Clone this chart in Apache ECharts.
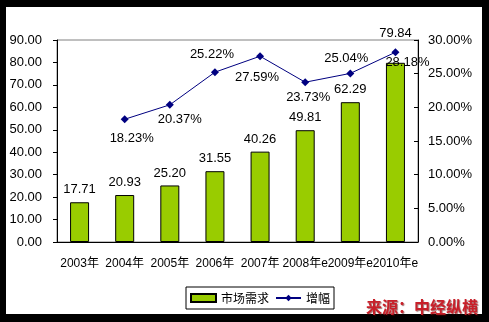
<!DOCTYPE html>
<html>
<head>
<meta charset="utf-8">
<script src="https://cdn.jsdelivr.net/npm/echarts@6/dist/echarts.min.js"></script>
<style>
  html, body { margin: 0; padding: 0; background: #000; }
  #chart { width: 489px; height: 322px; }
</style>
</head>
<body>
<div id="chart"></div>
<script>
// Market demand (bars, left axis) and growth rate (line, right axis)
const categories = ['2003年', '2004年', '2005年', '2006年', '2007年', '2008年e', '2009年e', '2010年e'];
const demand = [17.71, 20.93, 25.20, 31.55, 40.26, 49.81, 62.29, 79.84];
const growth = [null, 18.23, 20.37, 25.22, 27.59, 23.73, 25.04, 28.18];
// hand-placed label offsets for the growth points [dx, dy]
const growthLabelOffsets = [null, [7, 19], [10, 15], [-3, -18], [-3, 21], [3, 15], [-4, -15], [12, 10]];
const leftTicks = { min: 0, max: 90, interval: 10 };
const rightTicks = { min: 0, max: 30, interval: 5 };

const numFont = '"Liberation Sans", "Noto Sans CJK SC", sans-serif';

const chart = echarts.init(document.getElementById('chart'));

const barData = demand.map((v, i) => {
  const item = { value: v };
  if (i === demand.length - 1) item.label = { offset: [0, -17] };
  return item;
});

const lineData = growth.map((v, i) => {
  if (v === null) return null;
  return { value: v, label: { offset: growthLabelOffsets[i] } };
});

chart.setOption({
  backgroundColor: '#000',
  animation: false,
  textStyle: { fontFamily: numFont },
  graphic: [
    {
      type: 'rect', z: -10, silent: true,
      shape: { x: 6, y: 7, width: 476, height: 307 },
      style: { fill: '#fff' }
    },
    {
      type: 'text', z: 100, left: 366, top: 299,
      style: {
        text: '来源：中经纵横',
        fill: '#C8202A',
        font: 'bold 16px "Noto Sans CJK SC", sans-serif',
        textShadowColor: 'rgba(90,0,0,0.55)',
        textShadowOffsetX: 1,
        textShadowOffsetY: 1,
        textShadowBlur: 1
      }
    }
  ],
  grid: {
    left: 57, right: 71, top: 40, bottom: 80,
    show: true, borderColor: '#808080', borderWidth: 1, backgroundColor: 'transparent'
  },
  legend: {
    left: 186, top: 287,
    padding: [5, 4, 5, 4],
    itemGap: 6,
    itemWidth: 25, itemHeight: 8,
    borderColor: '#000', borderWidth: 1,
    backgroundColor: '#fff',
    textStyle: { fontSize: 12, color: '#000', fontFamily: '"Noto Sans CJK SC", sans-serif' },
    data: [
      { name: '市场需求', icon: 'rect' },
      { name: '增幅' }
    ]
  },
  xAxis: {
    type: 'category',
    data: categories,
    boundaryGap: true,
    axisLine: { lineStyle: { color: '#000', width: 1 } },
    axisTick: { inside: true, length: 5, lineStyle: { color: '#000' } },
    axisLabel: { interval: 0, color: '#000', fontSize: 12, margin: 16 },
    splitLine: { show: false }
  },
  yAxis: [
    {
      type: 'value', position: 'left',
      min: leftTicks.min, max: leftTicks.max, interval: leftTicks.interval,
      axisLine: { show: true, lineStyle: { color: '#000' } },
      axisTick: { show: true, length: 4, lineStyle: { color: '#000' } },
      axisLabel: { color: '#000', fontSize: 13, margin: 15, formatter: v => v.toFixed(2) },
      splitLine: { show: false }
    },
    {
      type: 'value', position: 'right',
      min: rightTicks.min, max: rightTicks.max, interval: rightTicks.interval,
      axisLine: { show: true, lineStyle: { color: '#000' } },
      axisTick: { show: true, inside: true, length: 4, lineStyle: { color: '#000' } },
      axisLabel: { color: '#000', fontSize: 13, margin: 10, formatter: v => v.toFixed(2) + '%' },
      splitLine: { show: false }
    }
  ],
  series: [
    {
      name: '市场需求',
      type: 'bar',
      yAxisIndex: 0,
      barWidth: 19,
      data: barData,
      itemStyle: { color: '#99CC00', borderColor: '#000', borderWidth: 1 },
      label: {
        show: true, position: 'top', distance: 6,
        color: '#000', fontSize: 13,
        formatter: p => p.value.toFixed(2)
      }
    },
    {
      name: '增幅',
      type: 'line',
      yAxisIndex: 1,
      data: lineData,
      connectNulls: false,
      symbol: 'diamond',
      symbolSize: 8,
      lineStyle: { color: '#000080', width: 1 },
      itemStyle: { color: '#000080' },
      label: {
        show: true, position: 'inside',
        color: '#000', fontSize: 13,
        formatter: p => p.value.toFixed(2) + '%'
      },
      z: 5
    }
  ]
});
</script>
</body>
</html>
